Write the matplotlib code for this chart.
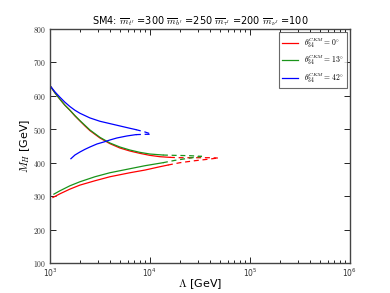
import matplotlib
matplotlib.use("Agg")
import matplotlib.pyplot as plt
from matplotlib.ticker import FuncFormatter, LogLocator, NullFormatter

plt.rcParams['mathtext.fontset'] = 'cm'
plt.rcParams['font.family'] = 'DejaVu Sans'

# log10(Lambda) and M_H values
red_up_x = [3.0, 3.05, 3.1, 3.15, 3.2, 3.25, 3.3, 3.35, 3.4, 3.45, 3.5, 3.6, 3.7, 3.8, 3.9, 4.0, 4.1, 4.2]
red_up_y = [631, 609, 590, 572, 557, 540, 525, 510, 496, 485, 474, 457, 444, 435, 428, 422, 418, 416]
red_up_dx = [4.2, 4.3, 4.4, 4.5, 4.6, 4.68]
red_up_dy = [416, 415, 415, 415, 415, 414]
red_lo_x = [3.03, 3.1, 3.2, 3.3, 3.45, 3.6, 3.8, 3.95, 4.1, 4.18]
red_lo_y = [296, 307, 321, 333, 346, 358, 370, 378, 388, 393]
red_lo_dx = [4.18, 4.3, 4.45, 4.57, 4.68]
red_lo_dy = [393, 400, 406, 410, 414]

green_up_x = [3.0, 3.05, 3.1, 3.15, 3.2, 3.25, 3.3, 3.35, 3.4, 3.45, 3.5, 3.6, 3.7, 3.8, 3.9, 4.0, 4.13]
green_up_y = [631, 609, 590, 572, 557, 541, 526, 512, 498, 487, 476, 459, 447, 438, 431, 426, 423]
green_up_dx = [4.13, 4.25, 4.4, 4.52]
green_up_dy = [423, 422, 421, 419]
green_lo_x = [3.04, 3.1, 3.2, 3.3, 3.45, 3.6, 3.8, 3.95, 4.13]
green_lo_y = [306, 316, 331, 343, 358, 370, 382, 391, 400]
green_lo_dx = [4.13, 4.25, 4.4, 4.52]
green_lo_dy = [400, 407, 414, 419]

blue_up_x = [3.0, 3.05, 3.1, 3.15, 3.2, 3.25, 3.3, 3.4, 3.5, 3.6, 3.7, 3.8, 3.86]
blue_up_y = [631, 612, 596, 581, 568, 557, 548, 534, 524, 517, 510, 503, 499]
blue_up_dx = [3.86, 3.95, 4.02]
blue_up_dy = [499, 492, 485]
blue_lo_x = [3.21, 3.25, 3.3, 3.35, 3.4, 3.47, 3.55, 3.6, 3.67, 3.77, 3.86]
blue_lo_y = [412, 423, 432, 440, 447, 456, 463, 468, 474, 480, 484]
blue_lo_dx = [3.86, 3.95, 4.02]
blue_lo_dy = [484, 485, 485]

labels = [r'$\theta_{34}^{CKM}=0^{\circ}$', r'$\theta_{34}^{CKM}=13^{\circ}$',
          r'$\theta_{34}^{CKM}=42^{\circ}$']
colors = ['red', '#1a941a', 'blue']

fig = plt.figure(figsize=(3.9, 2.93), dpi=100)
ax = fig.add_axes([0.128, 0.1024, 0.769, 0.7986])

def p(xs):
    return [10 ** v for v in xs]

lw = 0.9
series = [
    (red_up_x, red_up_y, red_up_dx, red_up_dy, red_lo_x, red_lo_y, red_lo_dx, red_lo_dy),
    (green_up_x, green_up_y, green_up_dx, green_up_dy, green_lo_x, green_lo_y, green_lo_dx, green_lo_dy),
    (blue_up_x, blue_up_y, blue_up_dx, blue_up_dy, blue_lo_x, blue_lo_y, blue_lo_dx, blue_lo_dy),
]
for (ux, uy, udx, udy, lx, ly, ldx, ldy), c, lab in zip(series, colors, labels):
    ax.plot(p(ux), uy, color=c, lw=lw, label=lab)
    ax.plot(p(udx), udy, color=c, lw=lw, ls=(0, (4, 3)))
    ax.plot(p(lx), ly, color=c, lw=lw)
    ax.plot(p(ldx), ldy, color=c, lw=lw, ls=(0, (4, 3)))

ax.set_xscale('log')
ax.set_xlim(1e3, 1e6)
ax.set_ylim(100, 800)
ax.set_yticks([100, 200, 300, 400, 500, 600, 700, 800])
ax.yaxis.set_major_formatter(FuncFormatter(lambda v, pos: r'$%d$' % v))
ax.xaxis.set_major_locator(LogLocator(base=10, numticks=10))
ax.xaxis.set_minor_locator(LogLocator(base=10, subs=range(2, 10), numticks=20))
ax.xaxis.set_minor_formatter(NullFormatter())
ax.tick_params(which='both', direction='in', top=True, right=True, labelsize=5.5, width=0.6,
               labelcolor='#333333')
ax.tick_params(which='major', length=4, pad=2.5)
ax.tick_params(which='minor', length=2)
for s in ax.spines.values():
    s.set_linewidth(1.0)
    s.set_color('#444444')

ax.set_xlabel(r'$\Lambda$ [GeV]', fontsize=8, labelpad=-1)
ax.set_ylabel(r'$M_H$ [GeV]', fontsize=8, labelpad=1)
ax.set_title(r"SM4: $\overline{m}_{t'}$ =300 $\overline{m}_{b'}$ =250 $\overline{m}_{\tau'}$ =200 $\overline{m}_{\nu'}$ =100",
             fontsize=7, pad=3)
leg = ax.legend(loc='upper right', fontsize=5.5, frameon=True, fancybox=False,
                edgecolor='#444444', handlelength=2.0, handletextpad=0.8, borderpad=0.45,
                labelspacing=0.45, borderaxespad=0.4)
leg.get_frame().set_linewidth(0.8)

fig.savefig('out.png', dpi=100)
